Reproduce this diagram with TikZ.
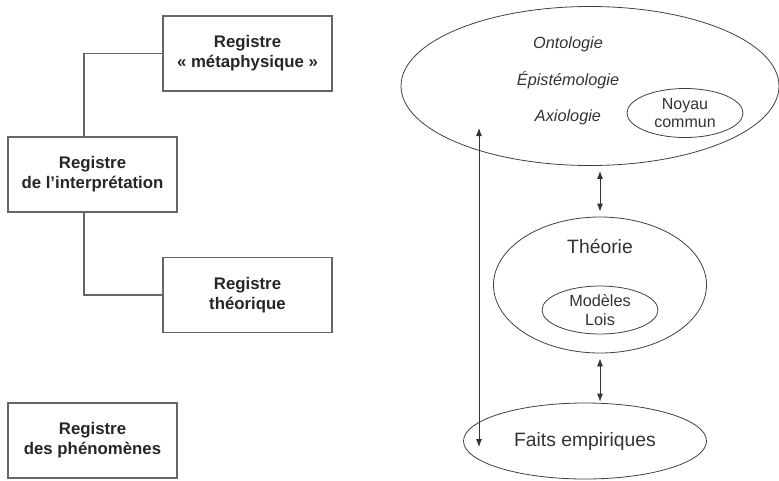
\documentclass[tikz,border=0pt]{standalone}
\usepackage{fontspec}
\setmainfont{Liberation Sans}
\usetikzlibrary{shapes.geometric,arrows.meta}

\tikzset{
	registre/.style={draw=black!60, line width=0.8pt, align=center, font=\fontsize{12.6}{15}\selectfont\bfseries, text=black!85, minimum width=126.75pt, minimum height=56.25pt, inner sep=0pt},
	cercle/.style={draw=black!75, line width=0.6pt, ellipse, align=center, inner sep=0pt, text=black!80},
	lien/.style={draw=black!60, line width=0.8pt},
	fleche/.style={draw=black!80, line width=0.6pt, {Latex[length=6pt,width=4.5pt]}-{Latex[length=6pt,width=4.5pt]}}
}

\begin{document}
\begin{tikzpicture}[x=0.75pt, y=-0.75pt]

		\useasboundingbox (0,0) rectangle (779,480);

		% registres
		\node[registre] (meta) at (247.5,53.5) {Registre\\\guillemotleft\ métaphysique \guillemotright};
		\node[registre] (interp) at (92.5,174.5) {Registre\\de l’interprétation};
		\node[registre] (theo) at (247.5,295) {Registre\\théorique};
		\node[registre] (pheno) at (92.5,440.5) {Registre\\des phénomènes};

		\draw[lien] ([xshift=-6.4pt]interp.north) |- (meta.west);
		\draw[lien] ([xshift=-6.4pt]interp.south) |- (theo.west);

		% ellipses
		\node[cercle, minimum width=283.5pt, minimum height=119.25pt] (cadre) at (590,86) {};
		\node[text=black!80, font=\fontsize{12.2}{14}\selectfont\itshape] (onto) at (568,44) {Ontologie};
		\node[text=black!80, font=\fontsize{12.2}{14}\selectfont\itshape] (epis) at (568,80) {Épistémologie};
		\node[text=black!80, font=\fontsize{12.2}{14}\selectfont\itshape] (axio) at (568,117) {Axiologie};
		\node[cercle, minimum width=87pt, minimum height=36.75pt, font=\fontsize{12}{14}\selectfont] (noyau) at (685,113) {Noyau\\commun};

		\node[cercle, minimum width=159.75pt, minimum height=102pt] (theorie) at (600,285) {};
		\node[text=black!80, font=\fontsize{14.5}{17}\selectfont] (theotxt) at (600,246) {Théorie};
		\node[cercle, minimum width=87pt, minimum height=36pt, font=\fontsize{12.2}{14}\selectfont] (modeles) at (600,310) {Modèles\\Lois};

		\node[cercle, minimum width=182.25pt, minimum height=57pt, font=\fontsize{14.5}{17}\selectfont] (faits) at (585,441) {\raisebox{-2pt}{Faits empiriques}};

		% fleches
		\coordinate (haut) at (479,128);
		\coordinate (bas) at (479,447);
		\draw[fleche] ([yshift=-3.75pt]cadre.south -| theorie.north) -- ([yshift=3.75pt]theorie.north);
		\draw[fleche] ([yshift=-3.75pt]theorie.south) -- ([yshift=0.75pt]theorie.south |- faits.north);
		\draw[fleche] (haut) -- (bas);

\end{tikzpicture}
\end{document}
